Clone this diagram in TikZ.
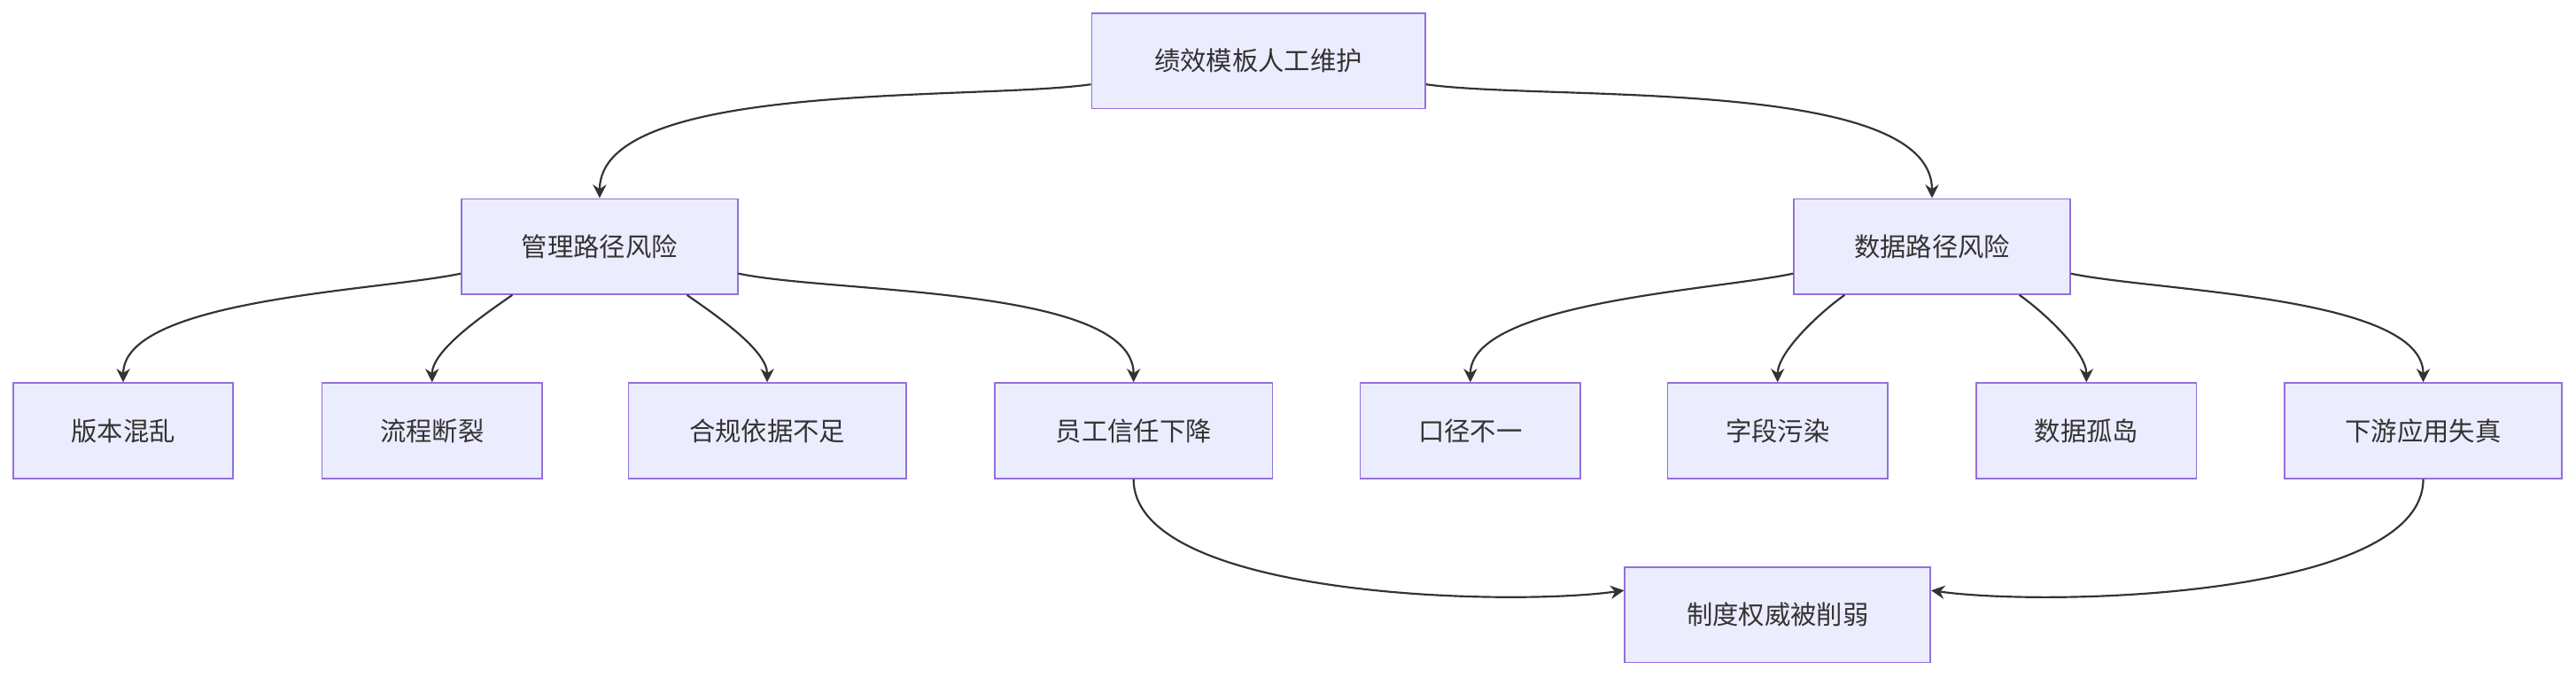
\documentclass[tikz,border=0pt]{standalone}
\usepackage{fontspec}
\setmainfont{Noto Sans CJK SC}
\usetikzlibrary{arrows.meta}
\definecolor{boxfill}{HTML}{ECECFF}
\definecolor{boxline}{HTML}{9370DB}
\definecolor{edge}{HTML}{333333}
\tikzset{
  box/.style={draw=boxline, fill=boxfill, line width=0.8pt, minimum height=1.74cm, inner sep=0pt, font=\fontsize{13.5}{16}\selectfont, text=edge},
  flow/.style={draw=edge, line width=1pt, -{Stealth[length=7pt,width=7pt]}}
}
\begin{document}
\begin{tikzpicture}[x=0.03cm,y=-0.03cm]
        \useasboundingbox (0,0) rectangle (1568,412);
        % top
        \node[box, minimum width=6.09cm] (root) at (766,37) {绩效模板人工维护};
        % two paths
        \node[box, minimum width=5.04cm] (mgmt) at (365,150) {管理路径风险};
        \node[box, minimum width=5.04cm] (data) at (1176,150) {数据路径风险};
        % leaves
        \node[box, minimum width=4.02cm] (ver) at (75,262) {版本混乱};
        \node[box, minimum width=4.02cm] (proc) at (263,262) {流程断裂};
        \node[box, minimum width=5.07cm] (comp) at (467,262) {合规依据不足};
        \node[box, minimum width=5.07cm] (trust) at (690,262) {员工信任下降};
        \node[box, minimum width=4.02cm] (caliber) at (895,262) {口径不一};
        \node[box, minimum width=4.02cm] (field) at (1082,262) {字段污染};
        \node[box, minimum width=4.02cm] (island) at (1270,262) {数据孤岛};
        \node[box, minimum width=5.07cm] (down) at (1475,262) {下游应用失真};
        % result
        \node[box, minimum width=5.58cm] (auth) at (1082,374) {制度权威被削弱};

        \draw[flow] (root.188) to[out=188,in=90,looseness=0.6] (mgmt.north);
        \draw[flow] (root.352) to[out=-8,in=90,looseness=0.6] (data.north);

        \draw[flow] (mgmt.191) to[out=192,in=90,looseness=0.6] (ver.north);
        \draw[flow] (mgmt.209) to[out=215,in=90,looseness=0.7] (proc.north);
        \draw[flow] (mgmt.331) to[out=-35,in=90,looseness=0.7] (comp.north);
        \draw[flow] (mgmt.349) to[out=-12,in=90,looseness=0.6] (trust.north);
        \draw[flow] (data.191) to[out=192,in=90,looseness=0.6] (caliber.north);
        \draw[flow] (data.209) to[out=215,in=90,looseness=0.7] (field.north);
        \draw[flow] (data.331) to[out=-35,in=90,looseness=0.7] (island.north);
        \draw[flow] (data.349) to[out=-12,in=90,looseness=0.6] (down.north);

        \draw[flow] (trust.south) to[out=-90,in=188,looseness=0.6] (auth.171);
        \draw[flow] (down.south) to[out=-90,in=-8,looseness=0.6] (auth.9);
\end{tikzpicture}
\end{document}
